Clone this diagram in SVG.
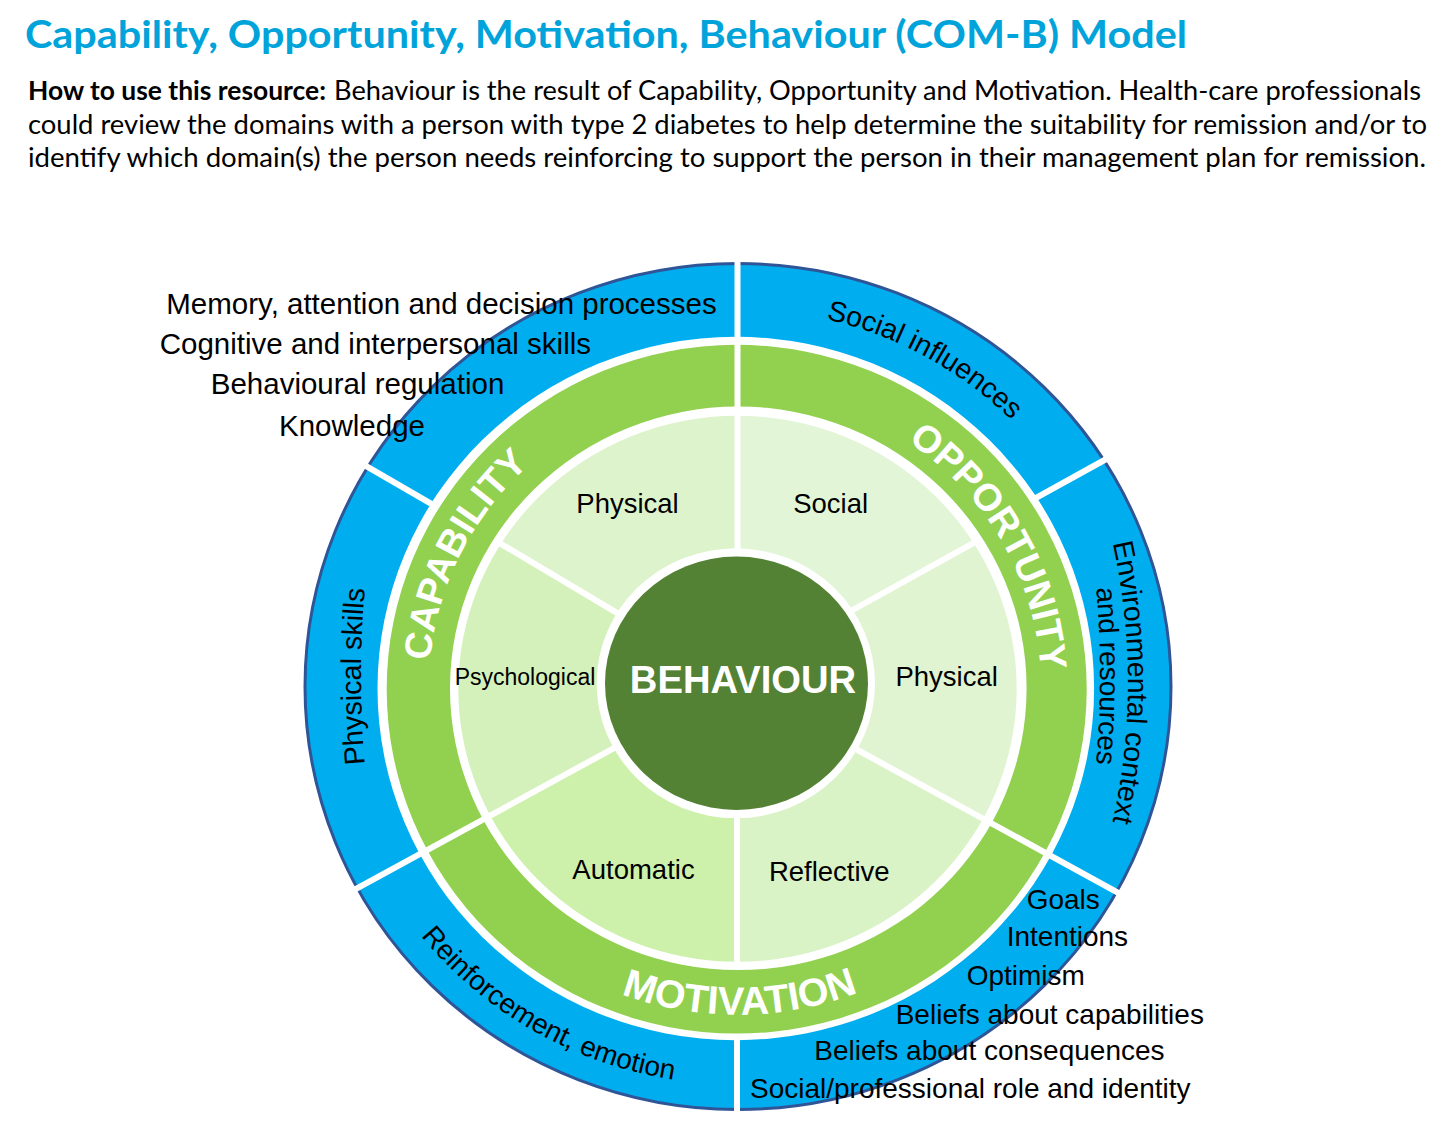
<svg xmlns="http://www.w3.org/2000/svg" width="1450" height="1141" viewBox="0 0 1450 1141">
<style>
.t{font-family:"Liberation Sans",Arial,sans-serif;fill:#000}
.lbl{font-size:27.5px;text-anchor:middle}
.dom{font-size:29.5px;text-anchor:end}
.arc{font-size:28.5px}
.ring{font-family:"Liberation Sans",Arial,sans-serif;font-weight:bold;fill:#fff}
.blue{fill:#00AEEF}
.green{fill:#92D050}
.outline{fill:none;stroke:#2F5597;stroke-width:3}
.div{stroke:#fff;stroke-width:6;fill:none}
.hdr{font-family:Lato,"Liberation Sans",sans-serif}
</style>
<defs>
  <path id="blueRing" fill-rule="evenodd" d="M305,686.5 A433,423 0 1 0 1171,686.5 A433,423 0 1 0 305,686.5 Z M377.5,688.5 A358.3,351.7 0 1 0 1094.1,688.5 A358.3,351.7 0 1 0 377.5,688.5 Z"/>
  <ellipse id="blueEdge" cx="738" cy="686.5" rx="433" ry="423"/>
  <path id="greenRing" fill-rule="evenodd" d="M386.7,689.2 A350,344.2 0 1 0 1086.7,689.2 A350,344.2 0 1 0 386.7,689.2 Z M450,688.3 A288.3,281.7 0 1 0 1026.6,688.3 A288.3,281.7 0 1 0 450,688.3 Z"/>
  <ellipse id="lightDisc" cx="737.5" cy="688.7" rx="279.2" ry="273"/>

  <clipPath id="cw-mem"><polygon points="737,680.1 0,254.9 0,0 737.5,0"/></clipPath>
  <clipPath id="cw-soc"><polygon points="737.5,662.3 737.5,0 1450,0 1450,270.1"/></clipPath>
  <clipPath id="cw-env"><polygon points="737.5,662.3 1450,270.1 1450,1074.5 737,683.9"/></clipPath>
  <clipPath id="cw-goal"><polygon points="737,683.9 1450,1074.5 1450,1141 737,1141"/></clipPath>
  <clipPath id="cw-rein"><polygon points="737,680.7 737,1141 0,1141 0,1083.5"/></clipPath>
  <clipPath id="cw-phys"><polygon points="737,680.1 737,680.7 0,1083.5 0,254.9"/></clipPath>

  <clipPath id="cg-opp"><polygon points="737.5,0 1450,0 1450,1074.5 737,683.9 737.5,680"/></clipPath>
  <clipPath id="cg-mot"><polygon points="737,683.9 1450,1074.5 1450,1141 0,1141 0,1083.5 737,680.7"/></clipPath>
  <clipPath id="cg-cap"><polygon points="737,680.7 0,1083.5 0,0 737.5,0 737.5,680"/></clipPath>

  <clipPath id="cl-soc"><polygon points="737.5,0 1450,0 1450,278.8 737,674.2"/></clipPath>
  <clipPath id="cl-phr"><polygon points="737,674.2 1450,278.8 1450,1074.5 737,683.9"/></clipPath>
  <clipPath id="cl-ref"><polygon points="737,683.9 1450,1074.5 1450,1141 737,1141"/></clipPath>
  <clipPath id="cl-aut"><polygon points="737,1141 0,1141 0,1083.5 737,680.7"/></clipPath>
  <clipPath id="cl-psy"><polygon points="737,680.7 0,1083.5 0,254.9 737,680.1"/></clipPath>
  <clipPath id="cl-phl"><polygon points="737,680.1 0,254.9 0,0 737.5,0"/></clipPath>

  <path id="p-soc" d="M541.1,361.4 A387,378.5 0 0 1 1124.5,684.2"/>
  <path id="p-env1" d="M1095.1,480 A640,640 0 0 1 1095.1,885"/>
  <path id="p-env2" d="M1079.8,476 A1000,1000 0 0 1 1079.8,876"/>
  <path id="p-phys" d="M381.2,876.5 A1000,1000 0 0 1 381.2,476.5"/>
  <path id="p-rein" d="M331.5,684.0 A406,397.1 0 0 0 937.4,1033.1"/>
  <path id="p-opp" d="M741.2,390.7 A303.5,296.8 0 0 1 998.5,839.0"/>
  <path id="p-cap" d="M481.7,856.2 A308.5,301.7 0 0 1 716.0,386.5"/>
  <path id="p-mot" d="M448.9,853.1 A334.6,327.2 0 0 0 1028.4,849.1"/>
</defs>

<rect width="1450" height="1141" fill="#fff"/>

<g id="title">
  <text class="hdr" x="25" y="48" font-weight="bold" font-size="38" fill="#00A3DA" textLength="1162" lengthAdjust="spacingAndGlyphs">Capability, Opportunity, Motivation, Behaviour (COM-B) Model</text>
</g>

<g id="intro" class="hdr" font-size="26" fill="#000">
  <text x="28" y="100" font-weight="bold" textLength="298" lengthAdjust="spacingAndGlyphs">How to use this resource:</text>
  <text x="334" y="100" textLength="1087" lengthAdjust="spacingAndGlyphs">Behaviour is the result of Capability, Opportunity and Motivation. Health-care professionals</text>
  <text x="28" y="133.5" textLength="1399" lengthAdjust="spacingAndGlyphs">could review the domains with a person with type 2 diabetes to help determine the suitability for remission and/or to</text>
  <text x="28" y="167" textLength="1398" lengthAdjust="spacingAndGlyphs">identify which domain(s) the person needs reinforcing to support the person in their management plan for remission.</text>
</g>

<!-- outer (blue) domains -->
<g id="domain-psychological-capability">
  <use href="#blueRing" class="blue" clip-path="url(#cw-mem)"/>
  <use href="#blueEdge" class="outline" clip-path="url(#cw-mem)"/>
  <text class="t dom" x="716.7" y="313.5">Memory, attention and decision processes</text>
  <text class="t dom" x="591" y="353.5">Cognitive and interpersonal skills</text>
  <text class="t dom" x="504.3" y="393.5">Behavioural regulation</text>
  <text class="t dom" x="425" y="435.5">Knowledge</text>
</g>
<g id="domain-social-influences">
  <use href="#blueRing" class="blue" clip-path="url(#cw-soc)"/>
  <use href="#blueEdge" class="outline" clip-path="url(#cw-soc)"/>
  <text class="t arc"><textPath href="#p-soc" startOffset="50%" text-anchor="middle">Social influences</textPath></text>
</g>
<g id="domain-environmental">
  <use href="#blueRing" class="blue" clip-path="url(#cw-env)"/>
  <use href="#blueEdge" class="outline" clip-path="url(#cw-env)"/>
  <text class="t" style="font-size:28.4px"><textPath href="#p-env1" startOffset="50%" text-anchor="middle">Environmental context</textPath></text>
  <text class="t" style="font-size:27.8px"><textPath href="#p-env2" startOffset="50%" text-anchor="middle">and resources</textPath></text>
</g>
<g id="domain-reflective-motivation">
  <use href="#blueRing" class="blue" clip-path="url(#cw-goal)"/>
  <use href="#blueEdge" class="outline" clip-path="url(#cw-goal)"/>
  <text class="t" style="font-size:28px" x="1026.7" y="909">Goals</text>
  <text class="t" style="font-size:28px" x="1006.7" y="945.5">Intentions</text>
  <text class="t" style="font-size:28px" x="966.7" y="985">Optimism</text>
  <text class="t" style="font-size:28px" x="895.7" y="1024">Beliefs about capabilities</text>
  <text class="t" style="font-size:28px" x="814.3" y="1060">Beliefs about consequences</text>
  <text class="t" style="font-size:28px" x="750" y="1098.3">Social/professional role and identity</text>
</g>
<g id="domain-reinforcement">
  <use href="#blueRing" class="blue" clip-path="url(#cw-rein)"/>
  <use href="#blueEdge" class="outline" clip-path="url(#cw-rein)"/>
  <text class="t" style="font-size:28px"><textPath href="#p-rein" startOffset="50%" text-anchor="middle">Reinforcement, emotion</textPath></text>
</g>
<g id="domain-physical-skills">
  <use href="#blueRing" class="blue" clip-path="url(#cw-phys)"/>
  <use href="#blueEdge" class="outline" clip-path="url(#cw-phys)"/>
  <text class="t arc"><textPath href="#p-phys" startOffset="50%" text-anchor="middle">Physical skills</textPath></text>
</g>

<!-- middle (green) components -->
<g id="capability">
  <use href="#greenRing" class="green" clip-path="url(#cg-cap)"/>
  <text class="ring" style="font-size:38px"><textPath href="#p-cap" startOffset="50%" text-anchor="middle">CAPABILITY</textPath></text>
</g>
<g id="opportunity">
  <use href="#greenRing" class="green" clip-path="url(#cg-opp)"/>
  <text class="ring" style="font-size:38px"><textPath href="#p-opp" startOffset="50%" text-anchor="middle">OPPORTUNITY</textPath></text>
</g>
<g id="motivation">
  <use href="#greenRing" class="green" clip-path="url(#cg-mot)"/>
  <text class="ring" style="font-size:39.5px"><textPath href="#p-mot" startOffset="50%" text-anchor="middle">MOTIVATION</textPath></text>
</g>

<!-- inner (light green) sub-components -->
<g id="capability-physical">
  <use href="#lightDisc" fill="#DDF3CB" clip-path="url(#cl-phl)"/>
  <text class="t lbl" x="627.5" y="512.7">Physical</text>
</g>
<g id="opportunity-social">
  <use href="#lightDisc" fill="#E2F5D6" clip-path="url(#cl-soc)"/>
  <text class="t lbl" x="830.7" y="513.3">Social</text>
</g>
<g id="opportunity-physical">
  <use href="#lightDisc" fill="#E0F4D2" clip-path="url(#cl-phr)"/>
  <text class="t lbl" x="946.7" y="686">Physical</text>
</g>
<g id="motivation-reflective">
  <use href="#lightDisc" fill="#D9F2C6" clip-path="url(#cl-ref)"/>
  <text class="t lbl" x="829.3" y="881">Reflective</text>
</g>
<g id="motivation-automatic">
  <use href="#lightDisc" fill="#CDF1AB" clip-path="url(#cl-aut)"/>
  <text class="t lbl" x="633.5" y="879">Automatic</text>
</g>
<g id="capability-psychological">
  <use href="#lightDisc" fill="#D4F1BB" clip-path="url(#cl-psy)"/>
  <text class="t" style="font-size:23px" text-anchor="middle" x="525" y="685">Psychological</text>
</g>

<g id="behaviour">
  <ellipse cx="735.8" cy="683.3" rx="139.2" ry="135" fill="#fff"/>
  <ellipse cx="736.5" cy="683.3" rx="131.5" ry="126.7" fill="#548235"/>
  <text class="ring" style="font-size:38.2px" text-anchor="middle" x="743" y="693">BEHAVIOUR</text>
</g>

<g id="dividers" class="div">
  <line x1="737.5" y1="552" x2="737.5" y2="255"/>
  <line x1="737" y1="815" x2="737" y2="967"/>
  <line x1="737" y1="1035" x2="737" y2="1115"/>
  <line x1="622" y1="615.8" x2="494" y2="539.8"/>
  <line x1="434" y1="505.3" x2="358" y2="461.4"/>
  <line x1="850" y1="611.5" x2="980" y2="539.4"/>
  <line x1="1036" y1="497.8" x2="1110" y2="457"/>
  <line x1="853" y1="747.5" x2="1121" y2="894.3"/>
  <line x1="619" y1="745.3" x2="351" y2="891.6"/>
</g>
</svg>
